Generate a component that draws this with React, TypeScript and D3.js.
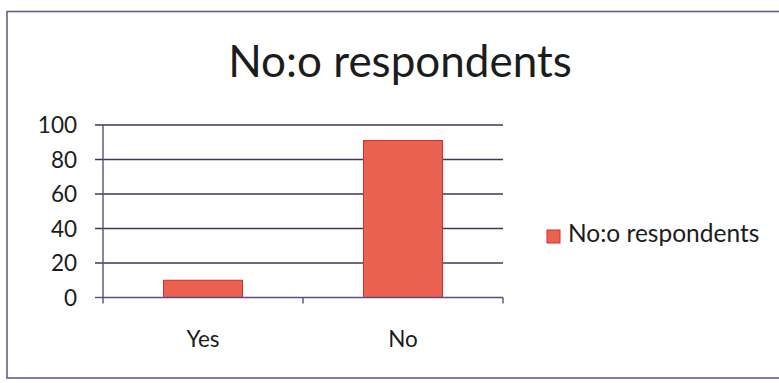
import React from "react";
import * as d3 from "d3";

// Survey answers and respondent counts
const categories: string[] = ["Yes", "No"];
const respondents: number[] = [10, 91];
const yTicks: number[] = [0, 20, 40, 60, 80, 100];
const chartTitle = "No:o respondents";
const seriesName = "No:o respondents";

const W = 779;
const H = 383;
const FONT = "Lato, 'Open Sans', 'Liberation Sans', sans-serif";

export default function App() {
  const plot = { left: 103, right: 503, top: 125, bottom: 297.5 };

  const x = d3
    .scaleBand<string>()
    .domain(categories)
    .range([plot.left, plot.right])
    .paddingInner(0.605)
    .paddingOuter(0.3025);

  const y = d3.scaleLinear().domain([0, 100]).range([plot.bottom, plot.top]);

  const gridColor = "#3e3852";
  const axisColor = "#5b4c86";
  const barFill = "#ea614f";
  const barStroke = "#d42d2d";
  const textColor = "#1c1c1c";

  // boundaries between categories, used for the x-axis tick marks
  const catEdges = d3
    .range(categories.length + 1)
    .map((i) => plot.left + (i * (plot.right - plot.left)) / categories.length);

  return (
    <svg
      width={W}
      height={H}
      viewBox={`0 0 ${W} ${H}`}
      style={{ position: "absolute", left: 0, top: 0, background: "#ffffff" }}
    >
      {/* chart frame */}
      <rect x={7} y={11.5} width={790} height={366.5} fill="none" stroke="#6b5c92" strokeWidth={1.6} />

      {/* title */}
      <text x={400} y={77} textAnchor="middle" fontFamily={FONT} fontSize={44} fill={textColor}>
        {chartTitle}
      </text>

      {/* horizontal gridlines with left tick marks */}
      {yTicks.map((t) => (
        <g key={t}>
          <line
            x1={plot.left - 8}
            x2={t === 0 ? plot.left : plot.right}
            y1={y(t)}
            y2={y(t)}
            stroke={t === 0 ? axisColor : gridColor}
            strokeWidth={1.4}
          />
          <text
            x={77}
            y={y(t)}
            dy="0.36em"
            textAnchor="end"
            fontFamily={FONT}
            fontSize={22.5}
            fill={textColor}
          >
            {t}
          </text>
        </g>
      ))}

      {/* vertical axis */}
      <line x1={plot.left} x2={plot.left} y1={plot.top} y2={plot.bottom} stroke={axisColor} strokeWidth={1.4} />

      {/* bars */}
      {categories.map((c, i) => (
        <rect
          key={c}
          x={x(c)}
          y={y(respondents[i])}
          width={x.bandwidth()}
          height={y(0) - y(respondents[i])}
          fill={barFill}
          stroke={barStroke}
          strokeWidth={1}
        />
      ))}

      {/* horizontal axis */}
      <line x1={plot.left} x2={plot.right} y1={plot.bottom} y2={plot.bottom} stroke={axisColor} strokeWidth={1.4} />
      {catEdges.map((ex, i) => (
        <line key={i} x1={ex} x2={ex} y1={plot.bottom} y2={plot.bottom + 6} stroke={axisColor} strokeWidth={1.4} />
      ))}
      {categories.map((c) => (
        <text
          key={c}
          x={(x(c) ?? 0) + x.bandwidth() / 2}
          y={346.5}
          textAnchor="middle"
          fontFamily={FONT}
          fontSize={22.5}
          fill={textColor}
        >
          {c}
        </text>
      ))}

      {/* legend */}
      <rect x={547} y={230} width={13} height={13} fill={barFill} stroke={barStroke} strokeWidth={1} />
      <text x={568} y={242} fontFamily={FONT} fontSize={24.5} fill={textColor}>
        {seriesName}
      </text>
    </svg>
  );
}
